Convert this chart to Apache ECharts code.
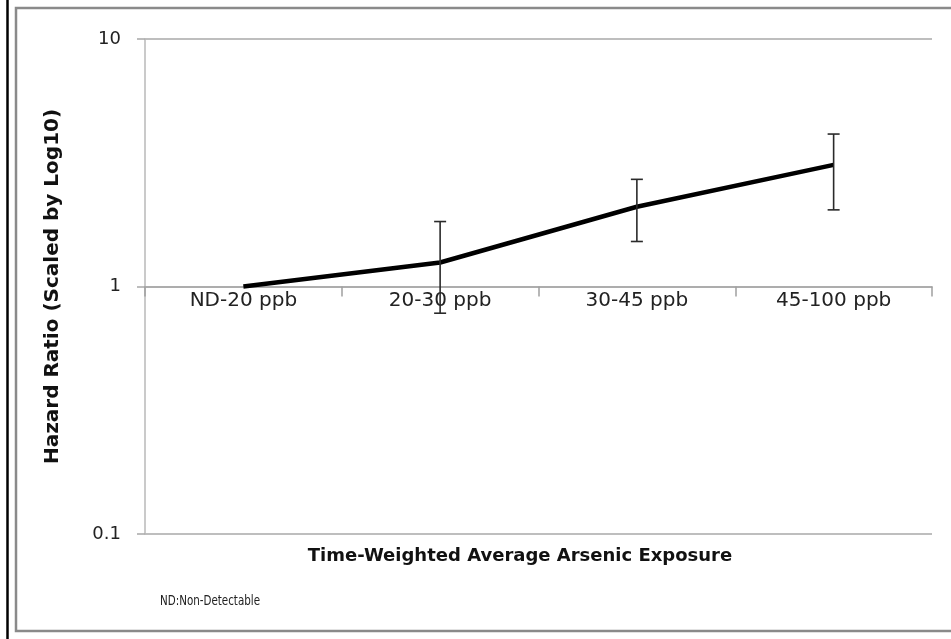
<!DOCTYPE html>
<html>
<head>
<meta charset="utf-8">
<script src="https://cdn.jsdelivr.net/npm/echarts@6/dist/echarts.min.js"></script>
<style>
  html, body { margin: 0; padding: 0; background: #fff; }
  #chart { width: 951px; height: 639px; }
</style>
</head>
<body>
<div id="chart"></div>
<script>
var categories = ['ND-20 ppb', '20-30 ppb', '30-45 ppb', '45-100 ppb'];
var hazardRatio = [1.0, 1.25, 2.1, 3.1];
var ciLow = [1.0, 0.78, 1.52, 2.04];
var ciHigh = [1.0, 1.83, 2.71, 4.13];
var yTicks = [0.1, 1, 10];

var font = '"DejaVu Sans", sans-serif';
var narrow = '"Liberation Sans Narrow", "DejaVu Sans Condensed", sans-serif';

window.onload = function() {
    setChart();
};

function setChart() {
    var ec = echarts.init(document.getElementById('chart'));

    // error bars only where an interval exists
    var errData = [];
    for (var i = 0; i < categories.length; i++) {
        if (ciHigh[i] !== ciLow[i]) {
            errData.push([i, ciLow[i], ciHigh[i]]);
        }
    }

    ec.setOption({
        animation: false,
        grid: {
            left: 145,
            right: 19,
            top: 39,
            bottom: 105
        },
        xAxis: {
            type: 'category',
            data: categories,
            boundaryGap: true,
            position: 'bottom',
            offset: -247.5,
            axisLine: {
                lineStyle: { color: '#a8a8a8', width: 1.5 }
            },
            axisTick: {
                show: true,
                interval: 0,
                alignWithLabel: false,
                length: 10,
                lineStyle: { color: '#a0a0a0', width: 1.5 }
            },
            axisLabel: {
                color: '#222',
                fontSize: 20,
                fontFamily: font,
                margin: 4
            },
            splitLine: { show: false }
        },
        yAxis: {
            type: 'log',
            logBase: 10,
            min: 0.1,
            max: 10,
            axisLine: {
                show: true,
                lineStyle: { color: '#b8b8b8', width: 1.5 }
            },
            axisTick: {
                show: true,
                length: 8,
                lineStyle: { color: '#a8a8a8', width: 1.5 }
            },
            axisLabel: {
                color: '#222',
                fontSize: 18,
                fontFamily: font,
                margin: 24,
                formatter: function(v) {
                    for (var k = 0; k < yTicks.length; k++) {
                        if (Math.abs(v - yTicks[k]) < 1e-9) return String(yTicks[k]);
                    }
                    return '';
                }
            },
            splitLine: {
                show: true,
                lineStyle: { color: '#a8a8a8', width: 1.5 }
            },
            name: 'Hazard Ratio (Scaled by Log10)',
            nameLocation: 'middle',
            nameGap: 82,
            nameTextStyle: {
                color: '#111',
                fontSize: 20,
                fontWeight: 'bold',
                fontFamily: font
            }
        },
        graphic: [
            {
                type: 'rect',
                shape: { x: 16, y: 8, width: 940, height: 623 },
                style: { fill: 'none', stroke: '#8a8a8a', lineWidth: 2.5 },
                silent: true
            },
            {
                type: 'line',
                shape: { x1: 7.5, y1: 0, x2: 7.5, y2: 639 },
                style: { stroke: '#000', lineWidth: 2.5 },
                silent: true
            },
            {
                type: 'text',
                x: 520,
                y: 556,
                style: {
                    text: 'Time-Weighted Average Arsenic Exposure',
                    fill: '#111',
                    font: 'bold 18px ' + font,
                    align: 'center',
                    verticalAlign: 'middle'
                }
            },
            {
                type: 'text',
                x: 160,
                y: 601,
                scaleX: 0.82,
                style: {
                    text: 'ND:Non-Detectable',
                    fill: '#222',
                    font: '14px ' + narrow,
                    verticalAlign: 'middle'
                }
            }
        ],
        series: [
            {
                type: 'line',
                data: hazardRatio,
                symbol: 'none',
                lineStyle: { color: '#000', width: 4.5 },
                z: 3
            },
            {
                type: 'custom',
                data: errData,
                z: 4,
                renderItem: function(params, api) {
                    var x = api.value(0);
                    var lo = api.coord([x, api.value(1)]);
                    var hi = api.coord([x, api.value(2)]);
                    var cap = 6;
                    var st = { stroke: '#2a2a2a', lineWidth: 1.6 };
                    return {
                        type: 'group',
                        children: [
                            { type: 'line', shape: { x1: lo[0], y1: lo[1], x2: hi[0], y2: hi[1] }, style: st },
                            { type: 'line', shape: { x1: hi[0] - cap, y1: hi[1], x2: hi[0] + cap, y2: hi[1] }, style: st },
                            { type: 'line', shape: { x1: lo[0] - cap, y1: lo[1], x2: lo[0] + cap, y2: lo[1] }, style: st }
                        ]
                    };
                }
            }
        ]
    });
}
</script>
</body>
</html>
